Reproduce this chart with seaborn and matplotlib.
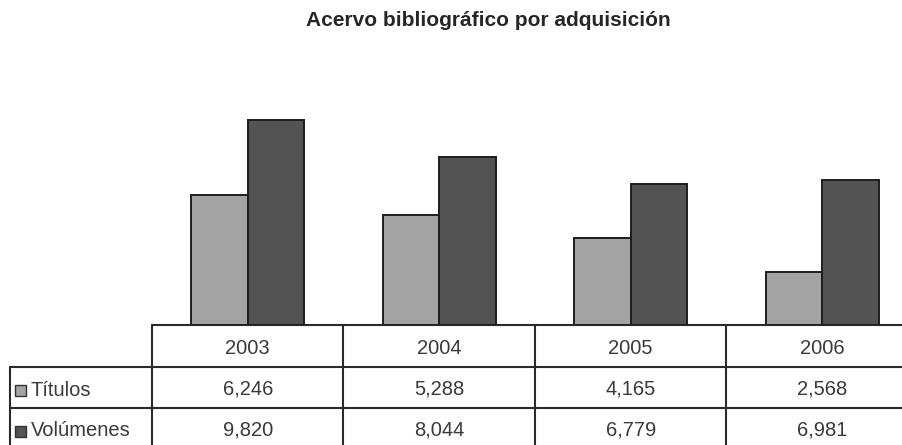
import matplotlib.pyplot as plt
import seaborn as sns
import pandas as pd
from matplotlib.lines import Line2D
from matplotlib.patches import Rectangle

years = ['2003', '2004', '2005', '2006']
series = ['Títulos', 'Volúmenes']
titulos = [6246, 5288, 4165, 2568]
volumenes = [9820, 8044, 6779, 6981]
colors = ['#a3a3a3', '#535353']

df = pd.DataFrame({
    'year': years * 2,
    'serie': [series[0]] * 4 + [series[1]] * 4,
    'value': titulos + volumenes,
})

sns.set_style('white')
plt.rcParams['font.family'] = ['Liberation Sans', 'DejaVu Sans']

W, H = 903, 445
fig = plt.figure(figsize=(W / 100, H / 100), dpi=100)

# chart area in pixel units (table columns continue past right edge)
x0, col_w, base, top = 152, 191.5, 325, 75
ax = fig.add_axes([x0 / W, (H - base) / H, col_w * 4 / W, (base - top) / H])
sns.barplot(data=df, x='year', y='value', hue='serie', palette=colors,
            width=0.59, gap=0, edgecolor='#1e1e1e', linewidth=1.4,
            legend=False, ax=ax)
ax.set_xlim(-0.5, 3.5)
ax.set_ylim(0, 12000)
ax.axis('off')

# overlay in pixel coords for the data table
ov = fig.add_axes([0, 0, 1, 1], zorder=-1)
ov.set_xlim(0, W)
ov.set_ylim(H, 0)
ov.axis('off')

lc = '#2a2a2a'
lw = 1.5
left = 10
ov.add_line(Line2D([x0, W], [325, 325], color=lc, lw=lw))
ov.add_line(Line2D([left, W], [367, 367], color=lc, lw=lw))
ov.add_line(Line2D([left, W], [408, 408], color=lc, lw=lw))
ov.add_line(Line2D([left, left], [367, 445], color=lc, lw=lw))
for i in range(4):
    xv = x0 + i * col_w
    ov.add_line(Line2D([xv, xv], [325, 445], color=lc, lw=lw))

txt = dict(fontsize=14.5, color='#3a3a3a', va='center')
for i, y in enumerate(years):
    cx = x0 + (i + 0.5) * col_w
    ov.text(cx, 348, y, ha='center', **txt)
    ov.text(cx, 389, f'{titulos[i]:,}', ha='center', **txt)
    ov.text(cx, 430, f'{volumenes[i]:,}', ha='center', **txt)

for j, (name, c) in enumerate(zip(series, colors)):
    cy = 390 + j * 41
    ov.add_patch(Rectangle((15, cy - 5.5), 11, 11, facecolor=c, edgecolor='#333333', lw=1))
    ov.text(31, cy, name, ha='left', **txt)

fig.text(488 / W, 1 - 20 / H, 'Acervo bibliográfico por adquisición',
         ha='center', va='center', fontsize=15, fontweight='bold', color='#262626')

fig.savefig('out.png', dpi=100)
